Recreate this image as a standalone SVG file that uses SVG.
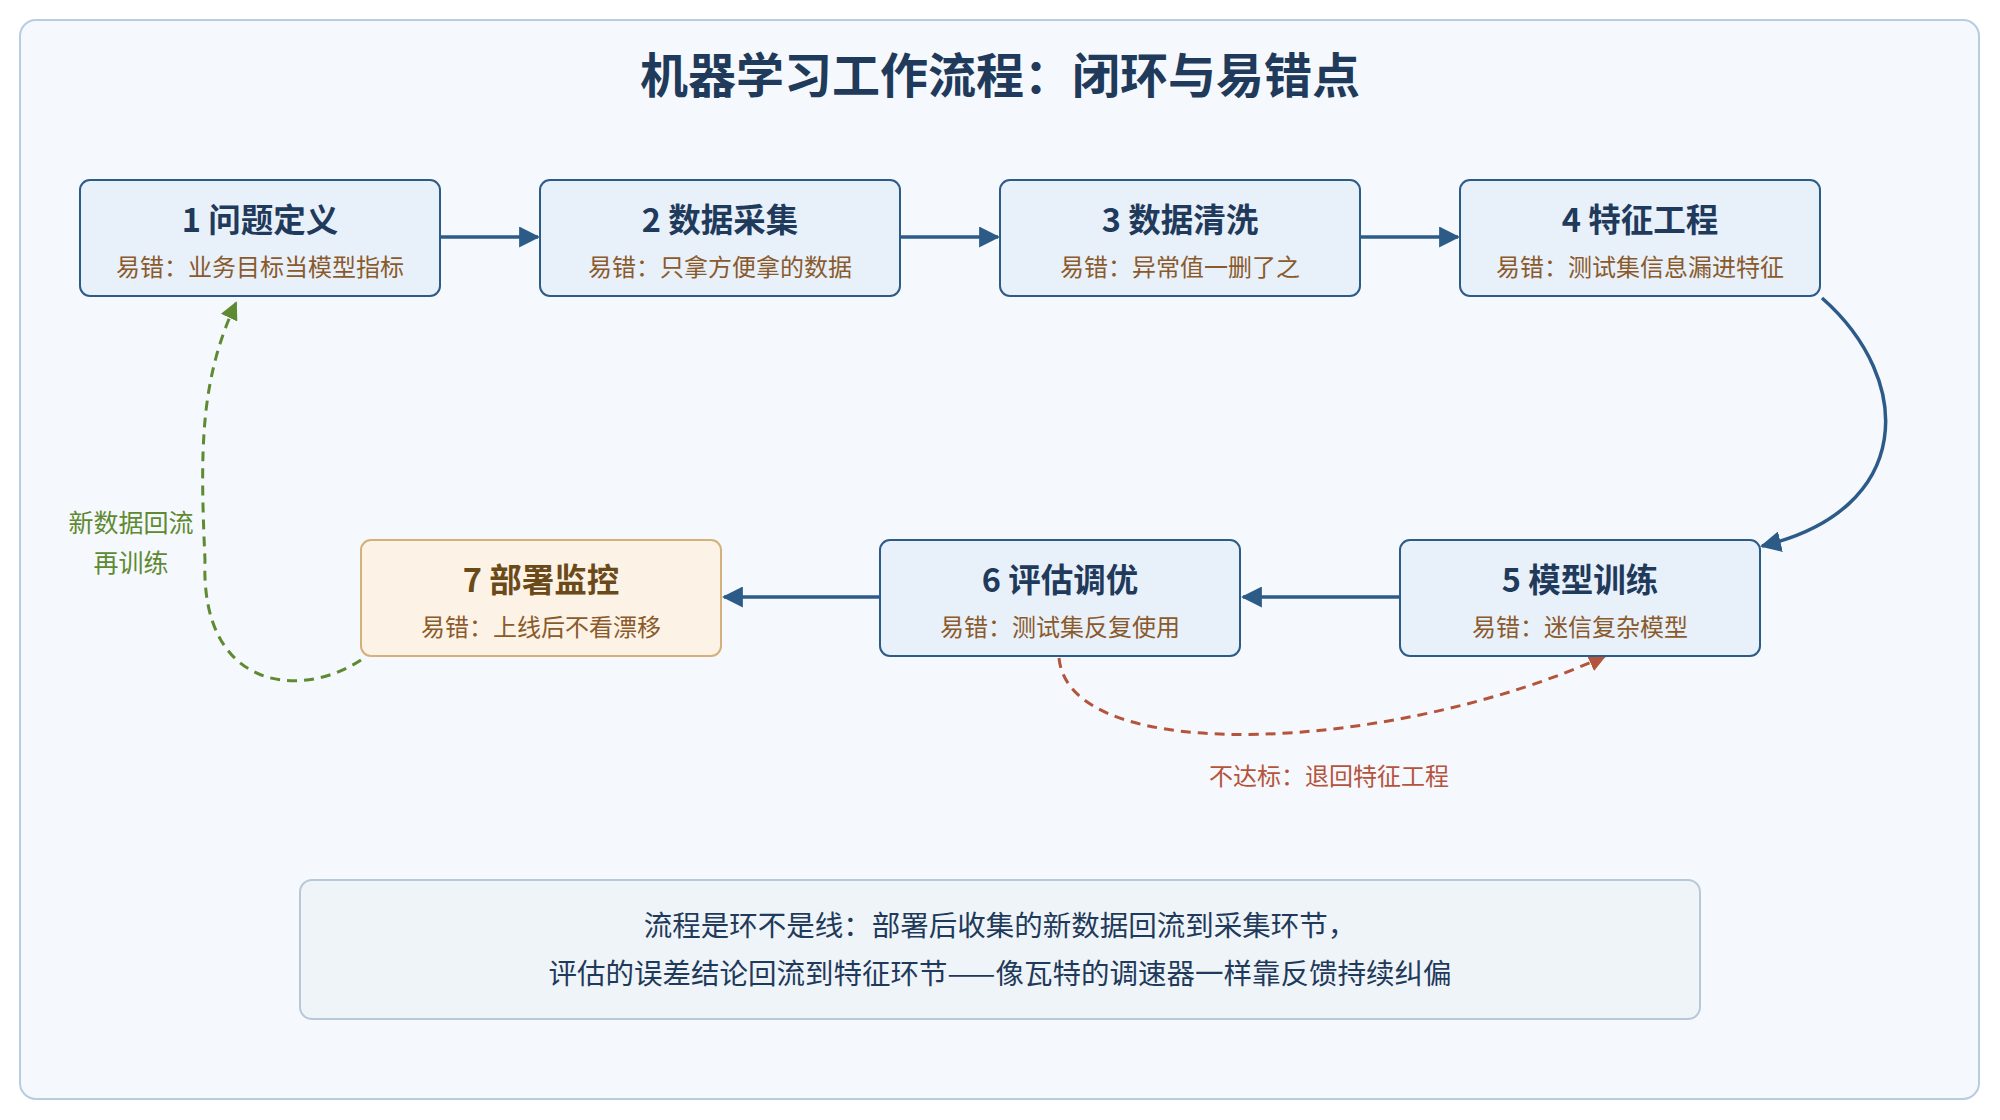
<svg xmlns="http://www.w3.org/2000/svg" width="2000" height="1120" viewBox="0 0 2000 1120">
<style>
text{font-family:"Noto Sans CJK SC","Noto Sans",sans-serif;text-anchor:middle}
.n{fill:#e8f0fa;stroke:#2d5b88;stroke-width:2}
.t{font-size:32.5px;font-weight:bold;fill:#1f3a5a}
.s{font-size:24px;fill:#8a5a2b}
.c{fill:none;stroke:#2d5b88;stroke-width:3.5}
</style>
<defs>
<marker id="a" viewBox="0 0 10 10" refX="9" refY="5" markerWidth="6" markerHeight="6" orient="auto"><path d="M0,0L10,5L0,10z" fill="#2d5b88"/></marker>
<marker id="r" viewBox="0 0 10 10" refX="9" refY="5" markerWidth="6" markerHeight="6" orient="auto"><path d="M0,0L10,5L0,10z" fill="#b5543c"/></marker>
<marker id="g" viewBox="0 0 10 10" refX="9" refY="5" markerWidth="6" markerHeight="6" orient="auto"><path d="M0,0L10,5L0,10z" fill="#5e8a32"/></marker>
</defs>
<rect x="20" y="20" width="1959" height="1079" rx="16" fill="#f5f8fc" stroke="#b8cce0" stroke-width="2"/>
<text x="1000" y="93" style="font-size:48px;font-weight:bold;fill:#1f3a5a">机器学习工作流程：闭环与易错点</text>
<g id="connectors">
<path class="c" d="M440,237H538" marker-end="url(#a)"/>
<path class="c" d="M900,237H998" marker-end="url(#a)"/>
<path class="c" d="M1360,237H1458" marker-end="url(#a)"/>
<path class="c" d="M1822,298C1915,380 1915,510 1762,546" marker-end="url(#a)"/>
<path class="c" d="M1400,597H1243" marker-end="url(#a)"/>
<path class="c" d="M880,597H724" marker-end="url(#a)"/>
<path d="M1059,658C1070,770 1400,750 1605,656" fill="none" stroke="#b5543c" stroke-width="3" stroke-dasharray="10,7" marker-end="url(#r)"/>
<path d="M361,660C300,700 200,690 205,560C200,450 200,380 236,303" fill="none" stroke="#5e8a32" stroke-width="3" stroke-dasharray="10,7" marker-end="url(#g)"/>
<text x="1329" y="785" style="font-size:24px;fill:#b5543c">不达标：退回特征工程</text>
<text x="131" y="532" style="font-size:25px;fill:#5e8a32">新数据回流</text>
<text x="131" y="572" style="font-size:25px;fill:#5e8a32">再训练</text>
</g>
<g id="n1"><rect class="n" x="80" y="180" width="360" height="116" rx="10"/><text class="t" x="260" y="232">1 问题定义</text><text class="s" x="260" y="276">易错：业务目标当模型指标</text></g>
<g id="n2"><rect class="n" x="540" y="180" width="360" height="116" rx="10"/><text class="t" x="720" y="232">2 数据采集</text><text class="s" x="720" y="276">易错：只拿方便拿的数据</text></g>
<g id="n3"><rect class="n" x="1000" y="180" width="360" height="116" rx="10"/><text class="t" x="1180" y="232">3 数据清洗</text><text class="s" x="1180" y="276">易错：异常值一删了之</text></g>
<g id="n4"><rect class="n" x="1460" y="180" width="360" height="116" rx="10"/><text class="t" x="1640" y="232">4 特征工程</text><text class="s" x="1640" y="276">易错：测试集信息漏进特征</text></g>
<g id="n5"><rect class="n" x="1400" y="540" width="360" height="116" rx="10"/><text class="t" x="1580" y="592">5 模型训练</text><text class="s" x="1580" y="636">易错：迷信复杂模型</text></g>
<g id="n6"><rect class="n" x="880" y="540" width="360" height="116" rx="10"/><text class="t" x="1060" y="592">6 评估调优</text><text class="s" x="1060" y="636">易错：测试集反复使用</text></g>
<g id="n7"><rect x="361" y="540" width="360" height="116" rx="10" fill="#fcf3e6" stroke="#d4b07a" stroke-width="2"/><text class="t" x="541" y="592" style="fill:#6b4a1a">7 部署监控</text><text class="s" x="541" y="636">易错：上线后不看漂移</text></g>
<g id="note"><rect x="300" y="880" width="1400" height="139" rx="12" fill="#eff4f9" stroke="#b8c8d8" stroke-width="2"/>
<text x="1000" y="936" style="font-size:28.5px;fill:#1f3a5a">流程是环不是线：部署后收集的新数据回流到采集环节，</text>
<text x="1000" y="984" style="font-size:28.5px;fill:#1f3a5a">评估的误差结论回流到特征环节——像瓦特的调速器一样靠反馈持续纠偏</text></g>
</svg>
